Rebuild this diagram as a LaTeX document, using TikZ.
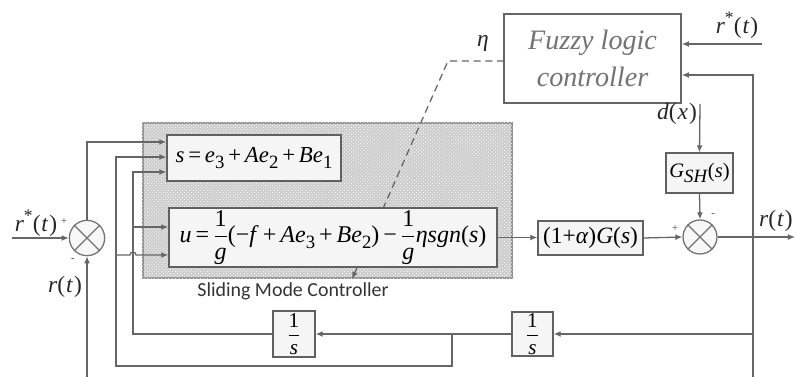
\documentclass[tikz,border=0pt]{standalone}
\usepackage{amsmath}
\usepackage{fontspec}
\setmainfont{Liberation Serif}
\newfontfamily\carl{Carlito}
\usetikzlibrary{arrows.meta,patterns}
\newcommand\I[1]{\textit{#1}}
\newcommand\sbx[1]{\raisebox{-0.55ex}{\fontsize{16}{16}\selectfont #1}}
\newcommand\spx[1]{\raisebox{0.9ex}{\fontsize{15}{15}\selectfont #1}}
\newcommand\fr[2]{$\dfrac{\text{#1}}{\text{#2}}$}
\newcommand\pa[1]{(\kern0.8pt#1\kern0.8pt)}
\begin{document}
\begin{tikzpicture}[x=0.03cm,y=-0.03cm,
  ln/.style={draw=black!60,line width=1.1pt},
  arr/.style={ln,-{Latex[length=6pt,width=5pt]}},
  blk/.style={draw=black!62,line width=1.1pt,fill=black!4,inner sep=0pt},
  sumc/.style={circle,draw=black!55,line width=1.1pt,fill=black!3,minimum size=1.06cm,inner sep=0pt},
  lab/.style={inner sep=0pt,text=black!85,font=\fontsize{20}{22}\selectfont},
  sgn/.style={inner sep=0pt,text=black!75,font=\fontsize{9}{10}\selectfont}]
\useasboundingbox (0,0) rectangle (795,377);
% sliding mode controller region
\node[draw=black!45,line width=1.4pt,fill=black!20,minimum width=11.07cm,minimum height=4.65cm,inner sep=0pt] (smc) at (327.5,200.5) {};
\fill[pattern=crosshatch dots,pattern color=white] (smc.south west) rectangle (smc.north east);
% fuzzy controller
\node[draw=black!60,line width=1.4pt,fill=white,minimum width=5.31cm,minimum height=2.67cm,align=center,text=black!55,font=\fontsize{24}{31}\selectfont\itshape] (fuzzy) at (592.5,58.5) {Fuzzy logic\\controller};
% dashed eta line
\coordinate (eta0) at (504,61);
\coordinate (eta1) at (448,61);
\coordinate (eta2) at (352,279);
\draw[ln,dashed,dash pattern=on 6pt off 4pt,-{Latex[length=6pt,width=5pt]}] (eta0) -- (eta1) -- (eta2);
% blocks
\node[blk,minimum width=5.22cm,minimum height=1.38cm,font=\fontsize{19.5}{22}\selectfont] (sbox) at (254,158) {\I{s}\,=\,\I{e}\sbx{3}\,+\,\I{Ae}\sbx{2}\,+\,\I{Be}\sbx{1}};
\node[blk,minimum width=9.84cm,minimum height=1.77cm,font=\fontsize{20.5}{22}\selectfont] (ubox) at (333,237.5) {\I{u}\,=\,\fr{1}{\I{g}}(−\I{f}\,+\,\I{Ae}\sbx{3}\,+\,\I{Be}\sbx{2})\,−\,\fr{1}{\I{g}}\I{ηsgn}(\I{s})};
\node[blk,minimum width=3.15cm,minimum height=1.02cm,font=\fontsize{20}{22}\selectfont] (gbox) at (590.5,238) {(1+\I{α})\I{G}(\I{s})};
\node[blk,minimum width=2.01cm,minimum height=1.2cm,font=\fontsize{17.5}{20}\selectfont] (gsh) at (699.5,173) {\I{G}\raisebox{-0.6ex}{\fontsize{16}{16}\selectfont\I{SH}}(\I{s})};
\node[blk,minimum width=1.23cm,minimum height=1.32cm,font=\fontsize{18}{20}\selectfont] (int2) at (532.5,334) {\fr{1}{\I{s}}};
\node[blk,minimum width=1.26cm,minimum height=1.38cm,font=\fontsize{18}{20}\selectfont] (int1) at (294,334) {\fr{1}{\I{s}}};
% summing junctions
\node[sumc] (sum1) at (87,238) {};
\draw[ln,draw=black!55] (sum1.north east) -- (sum1.south west) (sum1.north west) -- (sum1.south east);
\node[sumc,minimum size=1.02cm] (sum2) at (700,237) {};
\draw[ln,draw=black!55] (sum2.north east) -- (sum2.south west) (sum2.north west) -- (sum2.south east);
% coordinates
\coordinate (rsin) at (12,238);
\coordinate (rbot) at (87,377);
\coordinate (a142) at (87,142);
\coordinate (b157) at (116,157);
\coordinate (b255) at (116,255);
\coordinate (b366) at (116,366);
\coordinate (hopA) at (130,255);
\coordinate (c334) at (133,334);
\coordinate (c172) at (133,172);
\coordinate (c227) at (133,227);
\coordinate (j452) at (452,334);
\coordinate (j452b) at (452,366);
\coordinate (v75) at (753,75);
\coordinate (v334) at (753,334);
\coordinate (vbot) at (753,377);
\coordinate (outE) at (795,237);
\coordinate (rin) at (762,44);
\coordinate (din) at (700,104);
% connectors
\draw[arr] (rsin) -- (sum1.west);
\draw[arr] (rbot) -- (sum1.south);
\draw[arr] (sum1.north) -- (a142) -- (a142 -| sbox.west);
\draw[arr] (j452) -- (j452b) -- (b366) -- (b157) -- (b157 -| sbox.west);
\draw[arr] (b255) -- (hopA) arc (180:360:3) -- (b255 -| ubox.west);
\draw[arr] (int1.west) -- (c334) -- (c172) -- (c172 -| sbox.west);
\draw[arr] (c227) -- (c227 -| ubox.west);
\draw[arr] (j452) -- (int1.east);
\draw[ln] (int2.west) -- (j452);
\draw[arr] (ubox.east) -- (ubox.east -| gbox.west);
\draw[arr] (gbox.east) -- (sum2.west);
\draw[arr] (din) -- (gsh.north);
\draw[arr] (gsh.south) -- (sum2.north);
\draw[arr] (sum2.east) -- (outE);
\draw[arr] (vbot) -- (v75) -- (v75 -| fuzzy.east);
\draw[arr] (v334) -- (int2.east);
\draw[arr] (rin) -- (rin -| fuzzy.east);
% labels
\node[lab] (lrs) at (36,223) {\I{r}\spx{*}\pa{\I{t}}};
\node[sgn] (p1) at (64,222) {+};
\node[sgn] (m1) at (73,260) {-};
\node[lab] (lr) at (65,287) {\I{r}\pa{\I{t}}};
\node[lab] (leta) at (483,43) {\I{η}};
\node[inner sep=0pt,text=black!80,font=\carl\fontsize{17}{20}\selectfont] (lsmc) at (293,291) {Sliding Mode Controller};
\node[lab] (ld) at (677,114) {\I{d}\pa{\I{x}}};
\node[lab] (lrs2) at (737,25) {\I{r}\spx{*}\pa{\I{t}}};
\node[lab,anchor=east] (lrt) at (793,221) {\I{r}\pa{\I{t}}};
\node[sgn] (p2) at (675,229) {+};
\node[sgn] (m2) at (713,215) {-};
\end{tikzpicture}
\end{document}
